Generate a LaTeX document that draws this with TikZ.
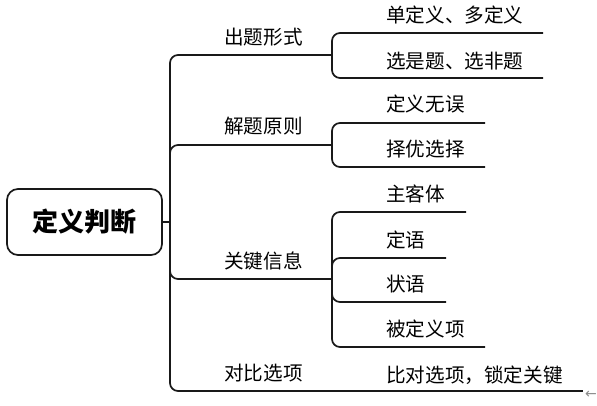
\documentclass[tikz,border=0pt]{standalone}
\usepackage{fontspec}
\setmainfont{Noto Sans CJK SC}
\newfontfamily\symfont{DejaVu Sans}
\begin{document}
\begin{tikzpicture}[x=1pt,y=-1pt,
  conn/.style={line width=1.7pt,draw=black!90,rounded corners=8pt},
  lbl/.style={anchor=west,inner sep=0pt,font=\fontsize{19.6}{22}\selectfont},
  rootbox/.style={draw=black!90,line width=1.7pt,rounded corners=11pt,minimum width=155pt,minimum height=66pt,font=\fontsize{26}{28}\selectfont\bfseries}]
\useasboundingbox (0,0) rectangle (597,406);
\node[rootbox] (root) at (84.5,222) {定义判断};
\coordinate (J0) at (170,222);
% main branches
\coordinate (J1) at (332,55);
\coordinate (J2) at (332,145);
\coordinate (J3) at (332,279);
\coordinate (J4) at (332,391);
\draw[conn] (root.east) -- (J0);
\draw[conn] (J0) |- (J1);
\draw[conn] (J0) |- (J2);
\draw[conn] (J0) |- (J3);
\draw[conn] (J0) |- (J4);
\node[lbl] (b1) at (224,37) {出题形式};
\node[lbl] (b2) at (224,126) {解题原则};
\node[lbl] (b3) at (224,261) {关键信息};
\node[lbl] (b4) at (224,373) {对比选项};
% sub items
\coordinate (e11) at (543,33);
\coordinate (e12) at (543,78);
\coordinate (e21) at (485,123);
\coordinate (e22) at (485,167);
\coordinate (e31) at (466,212);
\coordinate (e32) at (446,258);
\coordinate (e33) at (446,302);
\coordinate (e34) at (485,347);
\coordinate (e41) at (583,391);
\draw[conn] (J1) |- (e11);
\draw[conn] (J1) |- (e12);
\draw[conn] (J2) |- (e21);
\draw[conn] (J2) |- (e22);
\draw[conn] (J3) |- (e31);
\draw[conn] (J3) |- (e32);
\draw[conn] (J3) |- (e33);
\draw[conn] (J3) |- (e34);
\draw[conn] (J4) -- (e41);
\node[lbl] (s11) at (386,15) {单定义、多定义};
\node[lbl] (s12) at (386,61) {选是题、选非题};
\node[lbl] (s21) at (386,104) {定义无误};
\node[lbl] (s22) at (386,149) {择优选择};
\node[lbl] (s31) at (386,194) {主客体};
\node[lbl] (s32) at (386,240) {定语};
\node[lbl] (s33) at (386,284) {状语};
\node[lbl] (s34) at (386,329) {被定义项};
\node[lbl] (s41) at (386,375) {比对选项，锁定关键};
\node[anchor=west,inner sep=0pt,text=black!45,font=\symfont\fontsize{14}{15}\selectfont] (arr) at (585,395) {←};
\end{tikzpicture}
\end{document}
